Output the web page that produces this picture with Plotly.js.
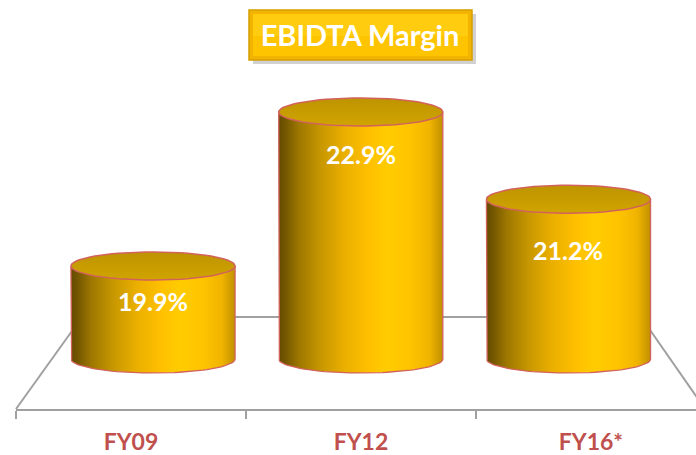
<!DOCTYPE html>
<html>
<head>
<meta charset="utf-8">
<script src="https://cdn.plot.ly/plotly-3.0.1.min.js"></script>
<style>html,body{margin:0;padding:0;background:#fff;}#chart{width:696px;height:455px;}</style>
</head>
<body>
<div id="chart"></div>
<script>
// ---- data ----
const categories = ['FY09', 'FY12', 'FY16*'];
const margins = [19.9, 22.9, 21.2];
const valueLabels = ['19.9%', '22.9%', '21.2%'];

// ---- layout constants ----
const W = 696, H = 455;
const PLOT_TOP = 60, PLOT_BOTTOM = 409;
const FLOOR = 18.088;                 // value sitting on the floor of the 3D box
const Y_MIN = 17.114, Y_MAX = 23.913;
const X2_RANGE = [-0.6594, 2.6138];   // axis used by the cylinders (shares x domain)
const HALF_W = 0.395;                 // cylinder half width (axis units)
const ELL_PX = 14;                    // ellipse half height in px
const unitsPerPx = (Y_MAX - Y_MIN) / (PLOT_BOTTOM - PLOT_TOP);
const ELL_B = ELL_PX * unitsPerPx;
const labelShiftPx = [-35, -42, -51];

function py(p) { return (PLOT_BOTTOM - p) / (PLOT_BOTTOM - PLOT_TOP); } // pixel y -> paper y
const X_LEFT = 16;
function px(p) { return p / W; }                                        // pixel x -> paper x

const bodyScale = [[0, '#634A00'], [0.04, '#735600'], [0.12, '#9C7600'], [0.26, '#C89800'],
                   [0.4, '#EAAF00'], [0.55, '#FFC000'], [0.66, '#FFCC00'], [0.8, '#FFC400'],
                   [0.92, '#F0B400'], [1, '#C09000']];
const capScale = [[0, '#D0A400'], [1, '#BE9400']];
const outline = '#D2625C';

const traces = [];
// carrier for the category axis (draws nothing)
traces.push({type: 'scatter', mode: 'none', x: [0, 1, 2], y: margins, xaxis: 'x', yaxis: 'y',
             hoverinfo: 'skip', showlegend: false});
// bodies
margins.forEach((v, i) => {
  const xs = [], ys = [];
  xs.push(i - HALF_W); ys.push(v);
  xs.push(i - HALF_W); ys.push(FLOOR);
  const n = 48;
  for (let k = 0; k <= n; k++) {
    const t = Math.PI + Math.PI * k / n;
    xs.push(i + HALF_W * Math.cos(t)); ys.push(FLOOR + ELL_B * Math.sin(t));
  }
  xs.push(i + HALF_W); ys.push(v);
  xs.push(i - HALF_W); ys.push(v);
  traces.push({
    type: 'scatter', mode: 'lines', x: xs, y: ys, xaxis: 'x2', yaxis: 'y',
    fill: 'toself', fillgradient: {type: 'horizontal', colorscale: bodyScale},
    line: {color: outline, width: 1.3}, hoverinfo: 'skip', showlegend: false,
    name: categories[i]
  });
});
// caps
margins.forEach((v, i) => {
  const xs = [], ys = [];
  const n = 72;
  for (let k = 0; k <= n; k++) {
    const t = 2 * Math.PI * k / n;
    xs.push(i + HALF_W * Math.cos(t)); ys.push(v + ELL_B * Math.sin(t));
  }
  traces.push({
    type: 'scatter', mode: 'lines', x: xs, y: ys, xaxis: 'x2', yaxis: 'y',
    fill: 'toself', fillgradient: {type: 'vertical', colorscale: capScale},
    line: {color: outline, width: 1.5}, hoverinfo: 'skip', showlegend: false
  });
});

const floorColor = '#A0A0A0';
const shapes = [
  // floor of the 3D box
  {type: 'line', xref: 'paper', yref: 'paper', x0: px(16), y0: py(409), x1: px(82), y1: py(317), line: {color: floorColor, width: 2}, layer: 'below'},
  {type: 'line', xref: 'paper', yref: 'paper', x0: px(82), y0: py(317), x1: px(641), y1: py(317), line: {color: floorColor, width: 2}, layer: 'below'},
  {type: 'line', xref: 'paper', yref: 'paper', x0: px(641), y0: py(317), x1: px(698), y1: py(399), line: {color: floorColor, width: 2}, layer: 'below'},
  // title box
  {type: 'rect', xref: 'paper', yref: 'paper', x0: px(253), y0: py(64), x1: px(476), y1: py(14), fillcolor: 'rgba(0,0,0,0.18)', line: {width: 0}, layer: 'below'},
  {type: 'rect', xref: 'paper', yref: 'paper', x0: px(249), y0: py(60), x1: px(472), y1: py(10), fillcolor: '#F2B400', line: {color: '#D49E00', width: 1.5}, layer: 'below'},
  {type: 'rect', xref: 'paper', yref: 'paper', x0: px(253), y0: py(56), x1: px(468), y1: py(14), fillcolor: '#FFC400', line: {width: 0}, layer: 'below'},
  {type: 'rect', xref: 'paper', yref: 'paper', x0: px(253), y0: py(36), x1: px(468), y1: py(14), fillcolor: '#FFCC10', line: {width: 0}, layer: 'below'}
];

const annotations = margins.map((v, i) => ({
  xref: 'x2', yref: 'y', x: i, y: v, yshift: labelShiftPx[i],
  text: '<b>' + valueLabels[i] + '</b>', showarrow: false,
  font: {family: 'Lato, "Open Sans", sans-serif', size: 25, color: '#FFFFFF'},
  xanchor: 'center', yanchor: 'middle'
}));

const layout = {
  width: W, height: H,
  margin: {l: 0, r: 0, t: PLOT_TOP, b: H - PLOT_BOTTOM, pad: 0},
  paper_bgcolor: '#FFFFFF', plot_bgcolor: 'rgba(0,0,0,0)',
  showlegend: false,
  title: {
    text: '<b>EBIDTA Margin</b>',
    font: {family: 'Lato, "Open Sans", sans-serif', size: 29, color: '#FFFFFF'},
    x: 360 / W, xanchor: 'center', xref: 'container',
    y: 1 - 36 / H, yanchor: 'middle', yref: 'container'
  },
  xaxis: {
    domain: [X_LEFT / W, 1], range: [-0.5, 2.457], type: 'linear',
    tickvals: [0, 1, 2], ticktext: categories, ticks: '',
    tickfont: {family: 'Lato, "Open Sans", sans-serif', size: 23, color: '#C0504D', weight: 'bold'},
    ticklabelstandoff: 11,
    showline: true, linecolor: floorColor, linewidth: 2,
    showgrid: false, zeroline: false, fixedrange: true,
    minor: {tickvals: [-0.5, 0.5, 1.5, 2.5], ticks: 'outside', ticklen: 8, tickcolor: floorColor, tickwidth: 2, showgrid: false}
  },
  xaxis2: {
    overlaying: 'x', range: X2_RANGE, visible: false, fixedrange: true, anchor: 'y'
  },
  yaxis: {
    range: [Y_MIN, Y_MAX], visible: false, fixedrange: true, showgrid: false, zeroline: false
  },
  shapes: shapes,
  annotations: annotations
};

Plotly.newPlot('chart', traces, layout, {displayModeBar: false, staticPlot: true});
</script>
</body>
</html>
